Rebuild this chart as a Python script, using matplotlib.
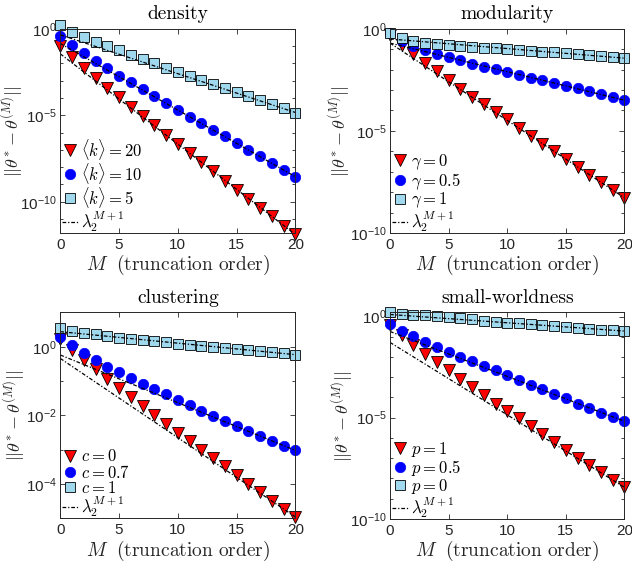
import numpy as np
import matplotlib
matplotlib.use('Agg')
import matplotlib.pyplot as plt
from matplotlib.ticker import LogLocator, NullFormatter

plt.rcParams['font.family'] = ['Liberation Sans', 'DejaVu Sans']
plt.rcParams['mathtext.fontset'] = 'cm'

M = np.arange(21)

# log10 of ||theta* - theta^(M)||
# density
dens_tri = [-1.0, -1.62, -2.25, -2.83, -3.41, -3.95, -4.51, -5.05, -5.59, -6.13, -6.67,
            -7.19, -7.71, -8.23, -8.77, -9.31, -9.83, -10.35, -10.85, -11.39, -11.89]
dens_circ = [-0.42, -0.94, -1.39, -1.85, -2.29, -2.72, -3.1, -3.51, -3.89, -4.28, -4.68,
             -5.09, -5.47, -5.84, -6.22, -6.61, -7.01, -7.38, -7.78, -8.17, -8.55]
dens_sq = [0.2, -0.19, -0.48, -0.75, -1.0, -1.25, -1.5, -1.73, -1.98, -2.24, -2.47,
           -2.72, -2.97, -3.2, -3.45, -3.68, -3.91, -4.14, -4.37, -4.6, -4.84]
dens_guides = [(-1.45, -11.89), (-0.85, -8.55), (-0.35, -4.84)]

# modularity
mod_tri = [-0.3, -0.78, -1.25, -1.68, -2.09, -2.49, -2.93, -3.33, -3.7, -4.07, -4.44,
           -4.85, -5.23, -5.62, -6.0, -6.39, -6.76, -7.14, -7.52, -7.91, -8.28]
mod_circ = [-0.22, -0.6, -0.85, -1.05, -1.24, -1.39, -1.55, -1.72, -1.85, -1.99, -2.12,
            -2.25, -2.39, -2.52, -2.66, -2.79, -2.92, -3.06, -3.2, -3.35, -3.5]
mod_sq = [-0.2, -0.47, -0.6, -0.69, -0.74, -0.78, -0.83, -0.88, -0.93, -0.96, -1.01,
          -1.05, -1.08, -1.13, -1.16, -1.21, -1.24, -1.29, -1.34, -1.37, -1.44]
mod_guides = [(-0.7, -8.28), (-0.7, -3.5), (-0.5, -1.44)]

# clustering
clu_tri = [0.22, -0.08, -0.39, -0.66, -0.94, -1.19, -1.47, -1.74, -1.98, -2.26, -2.5,
           -2.74, -3.0, -3.24, -3.48, -3.75, -3.99, -4.23, -4.5, -4.74, -4.96]
clu_circ = [0.29, 0.05, -0.19, -0.39, -0.58, -0.75, -0.92, -1.08, -1.24, -1.39, -1.55,
            -1.71, -1.86, -2.01, -2.16, -2.31, -2.45, -2.6, -2.74, -2.89, -3.02]
clu_sq = [0.56, 0.46, 0.41, 0.36, 0.31, 0.27, 0.23, 0.2, 0.16, 0.13, 0.09,
          0.06, 0.03, 0.0, -0.03, -0.06, -0.1, -0.13, -0.15, -0.18, -0.23]
clu_guides = [(-0.34, -4.96), (-0.24, -3.02), (0.44, -0.23)]

# small-worldness
sw_tri = [-0.42, -0.9, -1.39, -1.84, -2.26, -2.66, -3.08, -3.48, -3.89, -4.3, -4.67,
          -5.03, -5.41, -5.79, -6.18, -6.59, -6.97, -7.33, -7.7, -8.08, -8.44]
sw_circ = [-0.36, -0.7, -0.98, -1.26, -1.51, -1.75, -1.98, -2.21, -2.44, -2.66, -2.89,
           -3.13, -3.36, -3.59, -3.82, -4.05, -4.3, -4.52, -4.75, -4.95, -5.18]
sw_sq = [0.21, 0.13, 0.08, 0.05, 0.02, -0.02, -0.08, -0.13, -0.2, -0.26, -0.31,
         -0.34, -0.39, -0.44, -0.48, -0.52, -0.57, -0.62, -0.66, -0.69, -0.72]
sw_guides = [(-1.28, -8.44), (-0.74, -5.18), (0.1, -0.72)]

titles = ['density', 'modularity', 'clustering', 'small-worldness']
legends = [[r'$\langle k\rangle = 20$', r'$\langle k\rangle = 10$', r'$\langle k\rangle = 5$'],
           [r'$\gamma = 0$', r'$\gamma = 0.5$', r'$\gamma = 1$'],
           [r'$c = 0$', r'$c = 0.7$', r'$c = 1$'],
           [r'$p = 1$', r'$p = 0.5$', r'$p = 0$']]
ylims = [(-11.8, 0), (-10, 0), (-5, 1), (-10, 0.2)]
yticks = [[0, -5, -10], [0, -5, -10], [0, -2, -4], [0, -5, -10]]

series = [(dens_tri, dens_circ, dens_sq, dens_guides),
          (mod_tri, mod_circ, mod_sq, mod_guides),
          (clu_tri, clu_circ, clu_sq, clu_guides),
          (sw_tri, sw_circ, sw_sq, sw_guides)]

# axes rectangles in figure fractions
rects = [[0.0954, 0.587, 0.372, 0.362],
         [0.6171, 0.587, 0.371, 0.362],
         [0.0954, 0.081, 0.372, 0.365],
         [0.6171, 0.080, 0.371, 0.366]]
ylab_x = [-0.15, -0.16, -0.14, -0.15]

gray = '#262626'
fig = plt.figure(figsize=(6.32, 5.64), dpi=100)

for i in range(4):
    ax = fig.add_axes(rects[i])
    tri, circ, sq, guides = series[i]
    ax.semilogy(M, 10**np.array(tri), 'v', ms=8.5, mfc='#ff0000', mec='black', mew=0.6,
                clip_on=False, label=legends[i][0])
    ax.semilogy(M, 10**np.array(circ), 'o', ms=7.5, mfc='#0000ff', mec='#0000ff', mew=0.5,
                clip_on=False, label=legends[i][1])
    ax.semilogy(M, 10**np.array(sq), 's', ms=6.5, mfc='#a0d8ee', mec='black', mew=0.6,
                clip_on=False, label=legends[i][2])
    for j, (a, b) in enumerate(guides):
        ax.semilogy([0, 20], [10**a, 10**b], '-.', color='black', lw=0.9,
                    dashes=(3, 1.5, 1, 1.5),
                    label=r'$\lambda_2^{M+1}$' if j == 0 else None)

    ax.set_xlim(0, 20)
    ax.set_ylim(10**ylims[i][0], 10**ylims[i][1])
    ax.set_xticks([0, 5, 10, 15, 20])
    ax.set_yticks([10.0**t for t in yticks[i]],
                  labels=[r'$\mathdefault{10^{%d}}$' % t for t in yticks[i]])
    ax.yaxis.set_minor_locator(LogLocator(base=10, subs=[1.0], numticks=50))
    ax.yaxis.set_minor_formatter(NullFormatter())
    ax.tick_params(which='both', direction='in', top=True, right=True,
                   labelsize=11, colors=gray, labelcolor=gray, width=0.6)
    ax.tick_params(which='major', length=3.5)
    ax.tick_params(axis='y', pad=2.5)
    ax.tick_params(which='minor', length=2)
    for s in ax.spines.values():
        s.set_color(gray)
        s.set_linewidth(0.7)

    ax.set_title(titles[i], fontsize=14, pad=7, color='black', family='cmr10')
    ax.set_xlabel(r'$M\ \ \mathrm{(truncation\ order)}$', fontsize=14, color=gray, labelpad=1)
    ax.set_ylabel(r'$||\theta^{*}-\theta^{(M)}||$', fontsize=13, color=gray)
    ax.yaxis.set_label_coords(ylab_x[i], 0.5)

    ax.legend(loc='lower left', bbox_to_anchor=(0.0, -0.012), frameon=False,
              fontsize=12, numpoints=1, handlelength=1.0, handletextpad=0.15,
              labelspacing=-0.05, borderaxespad=0.0, borderpad=0.1)

fig.savefig('out.png', dpi=100)
